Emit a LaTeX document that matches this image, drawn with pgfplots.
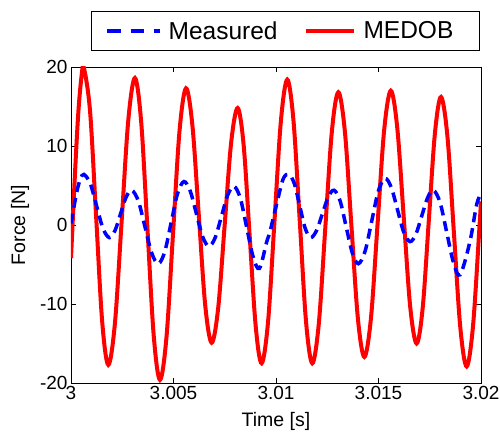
\documentclass[border=0pt]{standalone}
\usepackage{pgfplots}
\pgfplotsset{compat=1.18}
\usepackage{fontspec}
\setmainfont{Liberation Sans}
\begin{document}
\begin{tikzpicture}
\path[use as bounding box] (-71pt,-50pt) rectangle (429pt,383pt);
\begin{axis}[
  at={(0pt,0pt)}, anchor=south west,
  scale only axis, width=410pt, height=316pt,
  xmin=3, xmax=3.02, ymin=-20, ymax=20,
  xtick={3,3.005,3.01,3.015,3.02},
  xticklabels={3,3.005,3.01,3.015,3.02},
  ytick={-20,-10,0,10,20},
  yticklabels={-20,-10,0,10,20},
  tick align=inside, major tick length=5pt,
  axis line style={line width=0.8pt},
  every tick/.style={black, line width=0.8pt},
  tick label style={font=\fontsize{19}{21}\selectfont},
  label style={font=\fontsize{19.5}{22}\selectfont},
  xlabel={Time [s]}, ylabel={Force [N]},
  xlabel style={at={(axis description cs:0.5,-0.1218)}, anchor=center},
  ylabel style={at={(axis description cs:-0.1244,0.5)}, anchor=center},
  legend columns=2,
  legend style={at={(rel axis cs:0.523,1.114)}, anchor=center,
    font=\fontsize{24.5}{27}\selectfont, draw=black, line width=0.8pt,
    inner xsep=14pt, inner ysep=8pt,
    /tikz/every even column/.append style={column sep=24pt}},
]
\addlegendimage{legend image code/.code={\draw[blue, line width=3.5pt, dash pattern=on 13.3pt off 10pt] (0pt,0pt) -- (53pt,0pt); \path (59pt,0pt);}}
\addlegendentry{Measured}
\addplot[red, line width=4pt, smooth, tension=0.55,
  legend image code/.code={\draw[red, line width=4pt] (0pt,0pt) -- (48pt,0pt); \path (54pt,0pt);}] coordinates {
(3.0,-4.2)(3.0002,6.8)(3.00036,14.35)(3.00052,18.97)(3.00063,19.9)
(3.00093,14.39)(3.001225,1.1)(3.00152,-12.19)(3.00182,-17.7)
(3.002145,-12.38)(3.00247,0.45)(3.002795,13.28)(3.00312,18.6)
(3.003425,13.0)(3.00373,-0.5)(3.004035,-14.0)(3.00434,-19.6)
(3.004658,-14.19)(3.004975,-1.15)(3.005293,11.89)(3.00561,17.3)
(3.005923,12.58)(3.006235,1.2)(3.006548,-10.18)(3.00686,-14.9)
(3.007178,-10.55)(3.007495,-0.05)(3.007813,10.45)(3.00813,14.8)
(3.008423,10.07)(3.008715,-1.35)(3.009008,-12.77)(3.0093,-17.5)
(3.009613,-12.24)(3.009925,0.45)(3.010238,13.14)(3.01055,18.4)
(3.010855,13.14)(3.01116,0.45)(3.011465,-12.24)(3.01177,-17.5)
(3.012088,-12.48)(3.012405,-0.35)(3.012723,11.78)(3.01304,16.8)
(3.013358,11.89)(3.013675,0.05)(3.013993,-11.79)(3.01431,-16.7)
(3.014633,-11.76)(3.014955,0.15)(3.015278,12.06)(3.0156,17.0)
(3.015915,12.31)(3.01623,1.0)(3.016545,-10.31)(3.01686,-15.0)
(3.017158,-10.43)(3.017455,0.6)(3.017753,11.63)(3.01805,16.2)
(3.018363,11.2)(3.018675,-0.85)(3.018988,-12.9)(3.0193,-17.9)
(3.01961,-12.79)(3.01992,-0.45)(3.02,3.0)
};
\addlegendentry{MEDOB\makebox[10pt]{}}
\addplot[blue, line width=3.5pt, dash pattern=on 10pt off 6pt, smooth, tension=0.55, forget plot] coordinates {
(3.0,0.2)(3.000272,4.05)(3.000451,5.78)(3.00063,6.4)
(3.00094,5.23)(3.00125,2.4)(3.00156,-0.43)(3.00187,-1.6)
(3.002143,-0.72)(3.002415,1.4)(3.002688,3.52)(3.00296,4.4)
(3.003285,3.04)(3.00361,-0.25)(3.003935,-3.54)(3.00426,-4.9)
(3.004573,-3.38)(3.004885,0.3)(3.005198,3.98)(3.00551,5.5)
(3.005815,4.3)(3.00612,1.4)(3.006425,-1.5)(3.00673,-2.7)
(3.007035,-1.59)(3.00734,1.1)(3.007645,3.79)(3.00795,4.9)
(3.00826,3.38)(3.00857,-0.3)(3.00888,-3.98)(3.00919,-5.5)
(3.00955,-2.1)(3.00971,-0.8)(3.0101,3.4)(3.01036,5.9)(3.01063,6.4)
(3.010895,5.23)(3.01116,2.4)(3.011425,-0.43)(3.01169,-1.6)
(3.011975,-0.72)(3.01226,1.4)(3.012545,3.52)(3.01283,4.4)
(3.013128,3.04)(3.013425,-0.25)(3.013723,-3.54)(3.01402,-4.9)
(3.014345,-3.32)(3.01467,0.5)(3.014995,4.32)(3.01532,5.9)
(3.015625,4.73)(3.01593,1.9)(3.016235,-0.93)(3.01654,-2.1)
(3.016825,-1.15)(3.01711,1.15)(3.017395,3.45)(3.01768,4.4)
(3.018005,2.83)(3.01833,-0.95)(3.018655,-4.73)(3.01898,-6.3)
(3.01946,-2.1)(3.01978,2.5)(3.02,4.0)
};
\end{axis}
\end{tikzpicture}
\end{document}
